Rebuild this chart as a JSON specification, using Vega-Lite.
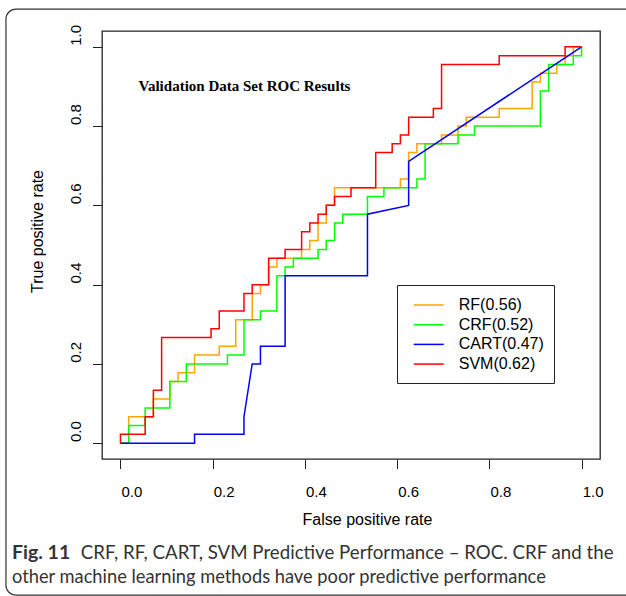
{
  "$schema": "https://vega.github.io/schema/vega-lite/v6.json",
  "width": 498,
  "height": 428,
  "autosize": "none",
  "padding": {"left": 102, "top": 31, "right": 26, "bottom": 137},
  "background": "white",
  "config": {"view": {"stroke": "#222", "strokeWidth": 1.3}, "font": "Liberation Sans"},
  "layer": [
    {
      "data": {"values": [{}]},
      "mark": {"type": "rect", "filled": false, "stroke": "#333", "strokeWidth": 1.2, "cornerRadius": 10},
      "encoding": {
        "x": {"datum": -0.2483, "type": "quantitative"},
        "x2": {"datum": 1.13},
        "y": {"datum": 1.0953, "type": "quantitative"},
        "y2": {"datum": -0.3836}
      }
    },
    {
      "data": {"values": [
        {"m":"RF(0.56)","k":0,"x":0,"y":0},{"m":"RF(0.56)","k":1,"x":0.0179,"y":0},{"m":"RF(0.56)","k":2,"x":0.0179,"y":0.0667},{"m":"RF(0.56)","k":3,"x":0.0714,"y":0.0667},{"m":"RF(0.56)","k":4,"x":0.0714,"y":0.1111},{"m":"RF(0.56)","k":5,"x":0.1071,"y":0.1111},{"m":"RF(0.56)","k":6,"x":0.1071,"y":0.1556},{"m":"RF(0.56)","k":7,"x":0.125,"y":0.1556},{"m":"RF(0.56)","k":8,"x":0.125,"y":0.1778},{"m":"RF(0.56)","k":9,"x":0.1607,"y":0.1778},{"m":"RF(0.56)","k":10,"x":0.1607,"y":0.2222},{"m":"RF(0.56)","k":11,"x":0.2143,"y":0.2222},{"m":"RF(0.56)","k":12,"x":0.2143,"y":0.2444},{"m":"RF(0.56)","k":13,"x":0.25,"y":0.2444},{"m":"RF(0.56)","k":14,"x":0.25,"y":0.3111},{"m":"RF(0.56)","k":15,"x":0.2857,"y":0.3111},{"m":"RF(0.56)","k":16,"x":0.2857,"y":0.3778},{"m":"RF(0.56)","k":17,"x":0.3036,"y":0.3778},{"m":"RF(0.56)","k":18,"x":0.3036,"y":0.4},{"m":"RF(0.56)","k":19,"x":0.3214,"y":0.4},{"m":"RF(0.56)","k":20,"x":0.3214,"y":0.4444},{"m":"RF(0.56)","k":21,"x":0.3393,"y":0.4444},{"m":"RF(0.56)","k":22,"x":0.3393,"y":0.4667},{"m":"RF(0.56)","k":23,"x":0.3929,"y":0.4667},{"m":"RF(0.56)","k":24,"x":0.3929,"y":0.4889},{"m":"RF(0.56)","k":25,"x":0.4107,"y":0.4889},{"m":"RF(0.56)","k":26,"x":0.4107,"y":0.5111},{"m":"RF(0.56)","k":27,"x":0.4286,"y":0.5111},{"m":"RF(0.56)","k":28,"x":0.4286,"y":0.5556},{"m":"RF(0.56)","k":29,"x":0.4464,"y":0.5556},{"m":"RF(0.56)","k":30,"x":0.4464,"y":0.6},{"m":"RF(0.56)","k":31,"x":0.4643,"y":0.6},{"m":"RF(0.56)","k":32,"x":0.4643,"y":0.6444},{"m":"RF(0.56)","k":33,"x":0.6071,"y":0.6444},{"m":"RF(0.56)","k":34,"x":0.6071,"y":0.6667},{"m":"RF(0.56)","k":35,"x":0.625,"y":0.6667},{"m":"RF(0.56)","k":36,"x":0.625,"y":0.7333},{"m":"RF(0.56)","k":37,"x":0.6429,"y":0.7333},{"m":"RF(0.56)","k":38,"x":0.6429,"y":0.7556},{"m":"RF(0.56)","k":39,"x":0.6964,"y":0.7556},{"m":"RF(0.56)","k":40,"x":0.6964,"y":0.7778},{"m":"RF(0.56)","k":41,"x":0.7321,"y":0.7778},{"m":"RF(0.56)","k":42,"x":0.7321,"y":0.8},{"m":"RF(0.56)","k":43,"x":0.75,"y":0.8},{"m":"RF(0.56)","k":44,"x":0.75,"y":0.8222},{"m":"RF(0.56)","k":45,"x":0.8214,"y":0.8222},{"m":"RF(0.56)","k":46,"x":0.8214,"y":0.8444},{"m":"RF(0.56)","k":47,"x":0.8929,"y":0.8444},{"m":"RF(0.56)","k":48,"x":0.8929,"y":0.9111},{"m":"RF(0.56)","k":49,"x":0.9107,"y":0.9111},{"m":"RF(0.56)","k":50,"x":0.9107,"y":0.9333},{"m":"RF(0.56)","k":51,"x":0.9464,"y":0.9333},{"m":"RF(0.56)","k":52,"x":0.9464,"y":0.9556},{"m":"RF(0.56)","k":53,"x":0.9643,"y":0.9556},{"m":"RF(0.56)","k":54,"x":0.9643,"y":0.9778},{"m":"RF(0.56)","k":55,"x":0.9821,"y":0.9778},{"m":"RF(0.56)","k":56,"x":0.9821,"y":1},{"m":"RF(0.56)","k":57,"x":1,"y":1},
        {"m":"CRF(0.52)","k":0,"x":0,"y":0},{"m":"CRF(0.52)","k":1,"x":0.0179,"y":0},{"m":"CRF(0.52)","k":2,"x":0.0179,"y":0.0444},{"m":"CRF(0.52)","k":3,"x":0.0536,"y":0.0444},{"m":"CRF(0.52)","k":4,"x":0.0536,"y":0.0889},{"m":"CRF(0.52)","k":5,"x":0.1071,"y":0.0889},{"m":"CRF(0.52)","k":6,"x":0.1071,"y":0.1556},{"m":"CRF(0.52)","k":7,"x":0.1429,"y":0.1556},{"m":"CRF(0.52)","k":8,"x":0.1429,"y":0.2},{"m":"CRF(0.52)","k":9,"x":0.2321,"y":0.2},{"m":"CRF(0.52)","k":10,"x":0.2321,"y":0.2222},{"m":"CRF(0.52)","k":11,"x":0.2679,"y":0.2222},{"m":"CRF(0.52)","k":12,"x":0.2679,"y":0.3111},{"m":"CRF(0.52)","k":13,"x":0.3036,"y":0.3111},{"m":"CRF(0.52)","k":14,"x":0.3036,"y":0.3333},{"m":"CRF(0.52)","k":15,"x":0.3393,"y":0.3333},{"m":"CRF(0.52)","k":16,"x":0.3393,"y":0.4222},{"m":"CRF(0.52)","k":17,"x":0.3571,"y":0.4222},{"m":"CRF(0.52)","k":18,"x":0.3571,"y":0.4444},{"m":"CRF(0.52)","k":19,"x":0.375,"y":0.4444},{"m":"CRF(0.52)","k":20,"x":0.375,"y":0.4667},{"m":"CRF(0.52)","k":21,"x":0.4286,"y":0.4667},{"m":"CRF(0.52)","k":22,"x":0.4286,"y":0.4889},{"m":"CRF(0.52)","k":23,"x":0.4464,"y":0.4889},{"m":"CRF(0.52)","k":24,"x":0.4464,"y":0.5111},{"m":"CRF(0.52)","k":25,"x":0.4643,"y":0.5111},{"m":"CRF(0.52)","k":26,"x":0.4643,"y":0.5556},{"m":"CRF(0.52)","k":27,"x":0.4821,"y":0.5556},{"m":"CRF(0.52)","k":28,"x":0.4821,"y":0.5778},{"m":"CRF(0.52)","k":29,"x":0.5357,"y":0.5778},{"m":"CRF(0.52)","k":30,"x":0.5357,"y":0.6222},{"m":"CRF(0.52)","k":31,"x":0.5714,"y":0.6222},{"m":"CRF(0.52)","k":32,"x":0.5714,"y":0.6444},{"m":"CRF(0.52)","k":33,"x":0.6429,"y":0.6444},{"m":"CRF(0.52)","k":34,"x":0.6429,"y":0.6667},{"m":"CRF(0.52)","k":35,"x":0.6607,"y":0.6667},{"m":"CRF(0.52)","k":36,"x":0.6607,"y":0.7556},{"m":"CRF(0.52)","k":37,"x":0.7321,"y":0.7556},{"m":"CRF(0.52)","k":38,"x":0.7321,"y":0.7778},{"m":"CRF(0.52)","k":39,"x":0.7679,"y":0.7778},{"m":"CRF(0.52)","k":40,"x":0.7679,"y":0.8},{"m":"CRF(0.52)","k":41,"x":0.9107,"y":0.8},{"m":"CRF(0.52)","k":42,"x":0.9107,"y":0.8889},{"m":"CRF(0.52)","k":43,"x":0.9286,"y":0.8889},{"m":"CRF(0.52)","k":44,"x":0.9286,"y":0.9556},{"m":"CRF(0.52)","k":45,"x":0.9821,"y":0.9556},{"m":"CRF(0.52)","k":46,"x":0.9821,"y":0.9778},{"m":"CRF(0.52)","k":47,"x":1,"y":0.9778},{"m":"CRF(0.52)","k":48,"x":1,"y":1},
        {"m":"CART(0.47)","k":0,"x":0,"y":0},{"m":"CART(0.47)","k":1,"x":0.1607,"y":0},{"m":"CART(0.47)","k":2,"x":0.1607,"y":0.0222},{"m":"CART(0.47)","k":3,"x":0.2679,"y":0.0222},{"m":"CART(0.47)","k":4,"x":0.2679,"y":0.0667},{"m":"CART(0.47)","k":5,"x":0.2857,"y":0.2},{"m":"CART(0.47)","k":6,"x":0.3036,"y":0.2},{"m":"CART(0.47)","k":7,"x":0.3036,"y":0.2444},{"m":"CART(0.47)","k":8,"x":0.3571,"y":0.2444},{"m":"CART(0.47)","k":9,"x":0.3571,"y":0.4222},{"m":"CART(0.47)","k":10,"x":0.5357,"y":0.4222},{"m":"CART(0.47)","k":11,"x":0.5357,"y":0.5778},{"m":"CART(0.47)","k":12,"x":0.625,"y":0.6},{"m":"CART(0.47)","k":13,"x":0.625,"y":0.7111},{"m":"CART(0.47)","k":14,"x":1,"y":1},
        {"m":"SVM(0.62)","k":0,"x":0,"y":0},{"m":"SVM(0.62)","k":1,"x":0,"y":0.0222},{"m":"SVM(0.62)","k":2,"x":0.0536,"y":0.0222},{"m":"SVM(0.62)","k":3,"x":0.0536,"y":0.0667},{"m":"SVM(0.62)","k":4,"x":0.0714,"y":0.0667},{"m":"SVM(0.62)","k":5,"x":0.0714,"y":0.1333},{"m":"SVM(0.62)","k":6,"x":0.0893,"y":0.1333},{"m":"SVM(0.62)","k":7,"x":0.0893,"y":0.2667},{"m":"SVM(0.62)","k":8,"x":0.1964,"y":0.2667},{"m":"SVM(0.62)","k":9,"x":0.1964,"y":0.2889},{"m":"SVM(0.62)","k":10,"x":0.2143,"y":0.2889},{"m":"SVM(0.62)","k":11,"x":0.2143,"y":0.3333},{"m":"SVM(0.62)","k":12,"x":0.2679,"y":0.3333},{"m":"SVM(0.62)","k":13,"x":0.2679,"y":0.3778},{"m":"SVM(0.62)","k":14,"x":0.2857,"y":0.3778},{"m":"SVM(0.62)","k":15,"x":0.2857,"y":0.4},{"m":"SVM(0.62)","k":16,"x":0.3214,"y":0.4},{"m":"SVM(0.62)","k":17,"x":0.3214,"y":0.4667},{"m":"SVM(0.62)","k":18,"x":0.3571,"y":0.4667},{"m":"SVM(0.62)","k":19,"x":0.3571,"y":0.4889},{"m":"SVM(0.62)","k":20,"x":0.3929,"y":0.4889},{"m":"SVM(0.62)","k":21,"x":0.3929,"y":0.5333},{"m":"SVM(0.62)","k":22,"x":0.4107,"y":0.5333},{"m":"SVM(0.62)","k":23,"x":0.4107,"y":0.5556},{"m":"SVM(0.62)","k":24,"x":0.4286,"y":0.5556},{"m":"SVM(0.62)","k":25,"x":0.4286,"y":0.5778},{"m":"SVM(0.62)","k":26,"x":0.4464,"y":0.5778},{"m":"SVM(0.62)","k":27,"x":0.4464,"y":0.6},{"m":"SVM(0.62)","k":28,"x":0.4643,"y":0.6},{"m":"SVM(0.62)","k":29,"x":0.4643,"y":0.6222},{"m":"SVM(0.62)","k":30,"x":0.5,"y":0.6222},{"m":"SVM(0.62)","k":31,"x":0.5,"y":0.6444},{"m":"SVM(0.62)","k":32,"x":0.5536,"y":0.6444},{"m":"SVM(0.62)","k":33,"x":0.5536,"y":0.7333},{"m":"SVM(0.62)","k":34,"x":0.5893,"y":0.7333},{"m":"SVM(0.62)","k":35,"x":0.5893,"y":0.7556},{"m":"SVM(0.62)","k":36,"x":0.6071,"y":0.7556},{"m":"SVM(0.62)","k":37,"x":0.6071,"y":0.7778},{"m":"SVM(0.62)","k":38,"x":0.625,"y":0.7778},{"m":"SVM(0.62)","k":39,"x":0.625,"y":0.8222},{"m":"SVM(0.62)","k":40,"x":0.6786,"y":0.8222},{"m":"SVM(0.62)","k":41,"x":0.6786,"y":0.8444},{"m":"SVM(0.62)","k":42,"x":0.6964,"y":0.8444},{"m":"SVM(0.62)","k":43,"x":0.6964,"y":0.9556},{"m":"SVM(0.62)","k":44,"x":0.8214,"y":0.9556},{"m":"SVM(0.62)","k":45,"x":0.8214,"y":0.9778},{"m":"SVM(0.62)","k":46,"x":0.9643,"y":0.9778},{"m":"SVM(0.62)","k":47,"x":0.9643,"y":1},{"m":"SVM(0.62)","k":48,"x":1,"y":1}
      ]},
      "mark": {"type": "line", "strokeWidth": 1.5, "strokeJoin": "miter"},
      "encoding": {
        "x": {
          "field": "x", "type": "quantitative",
          "scale": {"domain": [-0.04, 1.04], "nice": false, "zero": false},
          "axis": {
            "values": [0, 0.2, 0.4, 0.6, 0.8, 1], "format": ".1f", "title": "False positive rate",
            "grid": false, "domain": false, "tickSize": 9.5, "tickColor": "#222", "tickWidth": 1,
            "labelFont": "Liberation Sans", "labelFontSize": 15, "labelColor": "black",
            "labelOffset": 11, "labelBaseline": "alphabetic", "labelPadding": 28, "labelFlush": false, "labelOverlap": false,
            "titleFont": "Liberation Sans", "titleFontSize": 16, "titleFontWeight": "normal", "titleColor": "black",
            "titleX": 265, "titleY": 60, "titleBaseline": "middle", "titleAlign": "center"
          }
        },
        "y": {
          "field": "y", "type": "quantitative",
          "scale": {"domain": [-0.04, 1.04], "nice": false, "zero": false},
          "axis": {
            "values": [0, 0.2, 0.4, 0.6, 0.8, 1], "format": ".1f", "title": "True positive rate",
            "grid": false, "domain": false, "tickSize": 9.5, "tickColor": "#222", "tickWidth": 1,
            "labelFont": "Liberation Sans", "labelFontSize": 15, "labelColor": "black",
            "labelAngle": 270, "labelAlign": "center", "labelBaseline": "alphabetic", "labelPadding": 12.5, "labelOffset": -12,
            "labelFlush": false, "labelOverlap": false,
            "titleFont": "Liberation Sans", "titleFontSize": 16, "titleFontWeight": "normal", "titleColor": "black",
            "titleAngle": 270, "titleX": -64.5, "titleY": 200, "titleBaseline": "middle", "titleAlign": "center"
          }
        },
        "color": {
          "field": "m", "type": "nominal",
          "scale": {"domain": ["RF(0.56)", "CRF(0.52)", "CART(0.47)", "SVM(0.62)"], "range": ["#FFA500", "#00FF00", "#0000FF", "#FF0000"]},
          "legend": {
            "orient": "none", "legendX": 295, "legendY": 254, "title": null,
            "symbolType": "M-1.622,0H1.622", "symbolSize": 342, "symbolStrokeWidth": 1.5, "symbolOffset": 11.75,
            "labelFont": "Liberation Sans", "labelFontSize": 16, "labelColor": "black", "labelOffset": 20,
            "padding": 10, "rowPadding": 1.7, "strokeColor": "#222", "fillColor": "white", "cornerRadius": 0
          }
        },
        "order": {"field": "k", "type": "quantitative"}
      }
    },
    {
      "data": {"values": [{}]},
      "mark": {"type": "text", "font": "Liberation Serif", "fontWeight": "bold", "fontSize": 15, "align": "center", "baseline": "middle", "color": "black", "text": "Validation Data Set ROC Results"},
      "encoding": {
        "x": {"datum": 0.269, "type": "quantitative"},
        "y": {"datum": 0.9007, "type": "quantitative"}
      }
    },
    {
      "data": {"values": [{}]},
      "mark": {"type": "text", "font": "Lato", "fontWeight": "bold", "fontSize": 19.5, "align": "left", "baseline": "middle", "color": "#333", "text": "Fig. 11"},
      "encoding": {
        "x": {"datum": -0.2353, "type": "quantitative"},
        "y": {"datum": -0.2773, "type": "quantitative"}
      }
    },
    {
      "data": {"values": [{}]},
      "mark": {"type": "text", "font": "Lato", "fontSize": 18.7, "align": "left", "baseline": "middle", "color": "#333", "text": "CRF, RF, CART, SVM Predictive Performance – ROC. CRF and the"},
      "encoding": {
        "x": {"datum": -0.0859, "type": "quantitative"},
        "y": {"datum": -0.2773, "type": "quantitative"}
      }
    },
    {
      "data": {"values": [{}]},
      "mark": {"type": "text", "font": "Lato", "fontSize": 18.3, "align": "left", "baseline": "middle", "color": "#333", "text": "other machine learning methods have poor predictive performance"},
      "encoding": {
        "x": {"datum": -0.2353, "type": "quantitative"},
        "y": {"datum": -0.3405, "type": "quantitative"}
      }
    }
  ]
}
